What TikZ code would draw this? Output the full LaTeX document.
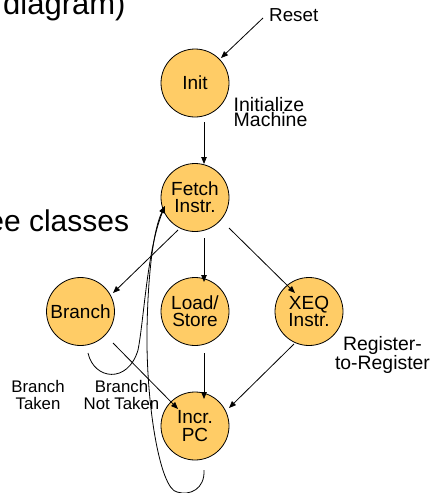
\documentclass[tikz,border=0pt]{standalone}
\usepackage{fontspec}
\setmainfont{Liberation Sans}
\usetikzlibrary{arrows.meta,calc}
\definecolor{stateFill}{RGB}{255,204,102}

\begin{document}
\begin{tikzpicture}[x=1pt,y=-1pt,
  state/.style={circle, draw=black, line width=0.8pt, fill=stateFill,
    minimum size=68pt, inner sep=0pt, align=center,
    font=\fontsize{19}{17.3}\selectfont},
  lbl/.style={inner sep=0pt, align=center},
  big/.style={inner sep=0pt, font=\fontsize{31}{36}\selectfont},
  conn/.style={line width=0.8pt, -{Triangle[length=7pt,width=5.5pt]}},
]
\useasboundingbox (0,0) rectangle (433,493);

% headline fragments
\node[big, anchor=base east] (head) at (125.7,14) {diagram)};
\node[big, anchor=base east, font=\fontsize{30}{36}\selectfont] (classes) at (129.3,231.7) {ee classes};

% states
\node[state] (init)   at (195,83)    {Init};
\node[state] (fetch)  at (195,197.5) {Fetch\\Instr.};
\node[state] (branch) at (80.5,311.5) {Branch};
\node[state] (load)   at (195,311.5) {Load/\\Store};
\node[state] (xeq)    at (309,311.5) {XEQ\\Instr.};
\node[state] (incr)   at (195,426)   {Incr.\\PC};

% labels
\node[lbl, anchor=base west, font=\fontsize{18.8}{16}\selectfont] (reset) at (269,21) {Reset};
\node[lbl, anchor=north west, align=left, font=\fontsize{19.5}{15.5}\selectfont]
  (initlbl) at (233.5,96.8) {Initialize\\Machine};
\node[lbl, anchor=north, font=\fontsize{16.8}{16.6}\selectfont]
  (taken) at (38,380.6) {Branch\\Taken};
\node[lbl, anchor=north, font=\fontsize{16.8}{16.6}\selectfont]
  (nottaken) at (121.5,380.6) {Branch\\Not Taken};
\node[lbl, anchor=north, font=\fontsize{19.4}{15}\selectfont]
  (regreg) at (382.5,336.6) {Register-\\to-Register};

% transitions
\draw[conn] ($(reset.base west)+(-6,-3)$) -- ($(init)+(26,-25)$);
\draw[conn] ($(init)+(9,39)$) -- ($(fetch)+(9,-33.5)$);
\draw[conn] ($(fetch)+(-17,32.5)$) -- ($(branch)+(32.5,-18.5)$);
\draw[conn] ($(fetch)+(9,40.5)$) -- ($(load)+(9,-29.5)$);
\draw[conn] ($(fetch)+(34,30.5)$) -- ($(xeq)+(-14,-18.5)$);
\draw[conn] ($(load)+(9,41.5)$) -- ($(incr)+(9,-27)$);
\draw[conn] ($(xeq)+(-15,32.5)$) -- ($(incr)+(34,-18)$);
\draw[conn] ($(branch)+(32.5,31.5)$) -- ($(incr)+(-17,-17)$);

% branch taken: back to fetch
\draw[conn] ($(branch)+(7.5,41.5)$)
  .. controls ($(branch)+(13.5,68.5)$) and ($(branch)+(47.5,72.5)$) .. ($(branch)+(57.5,38.5)$)
  .. controls ($(branch)+(63.5,8.5)$) and ($(fetch)+(-48,52.5)$) .. ($(fetch)+(-30,8.5)$);

% after incrementing the PC: back to fetch
\draw[conn] ($(incr)+(9,44)$)
  .. controls ($(incr)+(10,63)$) and ($(incr)+(-5,70)$) .. ($(incr)+(-18,66)$)
  .. controls ($(incr)+(-35,63)$) and ($(incr)+(-49,-21)$) .. ($(incr)+(-48,-96)$)
  .. controls ($(fetch)+(-47,72.5)$) and ($(fetch)+(-41,30.5)$) .. ($(fetch)+(-30,8.5)$);
\end{tikzpicture}
\end{document}
